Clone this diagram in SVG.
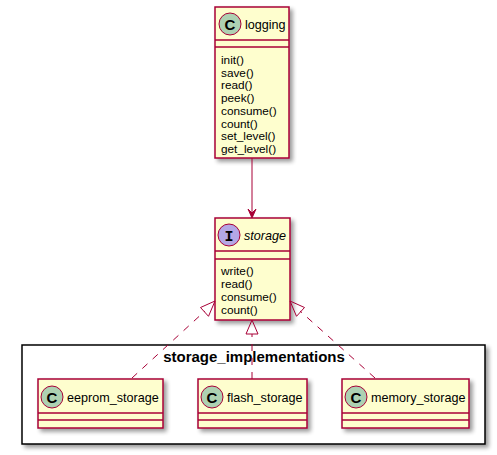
<svg xmlns="http://www.w3.org/2000/svg" width="497" height="455" viewBox="0 0 497 455">
<defs>
<filter id="sh" x="-10%" y="-10%" width="130%" height="130%">
<feGaussianBlur in="SourceAlpha" stdDeviation="2"/>
<feOffset dx="3" dy="3" result="b"/>
<feComponentTransfer><feFuncA type="linear" slope="0.4"/></feComponentTransfer>
<feMerge><feMergeNode/><feMergeNode in="SourceGraphic"/></feMerge>
</filter>
</defs>
<style>
.box{fill:#FEFECE;stroke:#A80036;stroke-width:1.5;}
.sep{stroke:#A80036;stroke-width:1.5;}
.ci{fill:#ADD1B2;stroke:#A80036;stroke-width:1;}
.ii{fill:#B4A7E5;stroke:#A80036;stroke-width:1;}
.t{font-family:"Liberation Sans",Arial,sans-serif;font-size:11.8px;fill:#000;}
.n{font-family:"Liberation Sans",Arial,sans-serif;font-size:12.6px;fill:#000;}
.g{font-family:"Liberation Sans",Arial,sans-serif;font-size:15px;font-weight:bold;fill:#000;text-anchor:middle;}
.l{font-family:"Liberation Sans",Arial,sans-serif;font-size:15px;font-weight:bold;fill:#000;text-anchor:middle;}
.pk{fill:#FFFFFF;stroke:#000;stroke-width:1.5;}
.dash{stroke:#A80036;stroke-width:1;stroke-dasharray:7,7;fill:none;}
.tri{fill:none;stroke:#A80036;stroke-width:1;}
</style>
<g id="storage_implementations">
<rect x="22" y="345" width="463" height="99" class="pk" filter="url(#sh)"/>
<text x="254" y="362" class="l">storage_implementations</text>
</g>
<g id="logging">
<rect x="215" y="7" width="74" height="151" class="box" filter="url(#sh)"/>
<line x1="215" y1="40" x2="289" y2="40" class="sep"/>
<line x1="215" y1="47" x2="289" y2="47" class="sep"/>
<circle cx="230" cy="24" r="11" class="ci"/>
<text x="230" y="29.5" class="g">C</text>
<text x="245" y="28.5" class="n">logging</text>
<text x="221" y="64" class="t">init()</text>
<text x="221" y="76.7" class="t">save()</text>
<text x="221" y="89.4" class="t">read()</text>
<text x="221" y="102.1" class="t">peek()</text>
<text x="221" y="114.8" class="t">consume()</text>
<text x="221" y="127.5" class="t">count()</text>
<text x="221" y="140.2" class="t">set_level()</text>
<text x="221" y="152.9" class="t">get_level()</text>
</g>
<g id="storage">
<rect x="215" y="218" width="75" height="102" class="box" filter="url(#sh)"/>
<line x1="215" y1="251" x2="290" y2="251" class="sep"/>
<line x1="215" y1="259" x2="290" y2="259" class="sep"/>
<circle cx="229" cy="235" r="11" class="ii"/>
<text x="229" y="240.5" class="g" style="font-family:'Liberation Mono',monospace">I</text>
<text x="244" y="240" class="n" style="font-style:italic">storage</text>
<text x="221" y="275" class="t">write()</text>
<text x="221" y="288" class="t">read()</text>
<text x="221" y="301" class="t">consume()</text>
<text x="221" y="314" class="t">count()</text>
</g>
<g id="eeprom_storage">
<rect x="38" y="379" width="125" height="49" class="box" filter="url(#sh)"/>
<line x1="38" y1="413" x2="163" y2="413" class="sep"/>
<line x1="38" y1="420" x2="163" y2="420" class="sep"/>
<circle cx="52" cy="397" r="11" class="ci"/>
<text x="52" y="402.5" class="g">C</text>
<text x="67" y="401.5" class="n">eeprom_storage</text>
</g>
<g id="flash_storage">
<rect x="198" y="379" width="109" height="49" class="box" filter="url(#sh)"/>
<line x1="198" y1="413" x2="307" y2="413" class="sep"/>
<line x1="198" y1="420" x2="307" y2="420" class="sep"/>
<circle cx="212" cy="397" r="11" class="ci"/>
<text x="212" y="402.5" class="g">C</text>
<text x="227" y="401.5" class="n">flash_storage</text>
</g>
<g id="memory_storage">
<rect x="342" y="379" width="127" height="49" class="box" filter="url(#sh)"/>
<line x1="342" y1="413" x2="469" y2="413" class="sep"/>
<line x1="342" y1="420" x2="469" y2="420" class="sep"/>
<circle cx="356" cy="397" r="11" class="ci"/>
<text x="356" y="402.5" class="g">C</text>
<text x="371" y="401.5" class="n">memory_storage</text>
</g>
<g id="connectors">
<line x1="252" y1="158" x2="252" y2="212" stroke="#A80036" stroke-width="1"/>
<polygon points="252,218 248,209 252,213 256,209" fill="#A80036" stroke="#A80036" stroke-width="1"/>
<line x1="132" y1="378" x2="205" y2="311" class="dash"/>
<polygon points="215,301 200.5,307.5 208.5,316.3" class="tri"/>
<line x1="252" y1="379" x2="252" y2="334" class="dash"/>
<polygon points="252,320 246,334 258,334" class="tri"/>
<line x1="375" y1="378" x2="300" y2="311" class="dash"/>
<polygon points="290,301 296.5,316.3 304.5,307.5" class="tri"/>
</g>
</svg>
